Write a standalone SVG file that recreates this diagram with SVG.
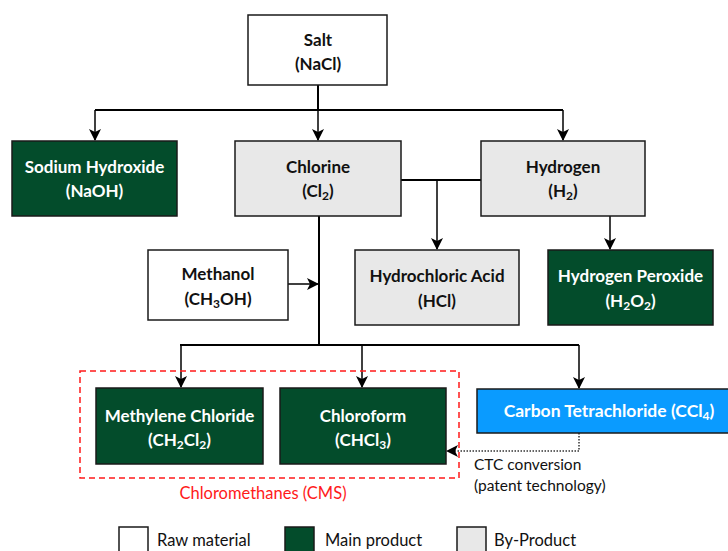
<svg xmlns="http://www.w3.org/2000/svg" width="728" height="551" viewBox="0 0 728 551">
<defs>
<marker id="ah" viewBox="0 0 12 12" refX="11" refY="6" markerWidth="12" markerHeight="12" markerUnits="userSpaceOnUse" orient="auto">
<path d="M0,0 L12,6 L0,12 L3,6 z" fill="#000"/>
</marker>
<style>
.box{stroke:#1a1a1a;stroke-width:1.5}
.raw{fill:#ffffff}
.main{fill:#034c2b}
.by{fill:#e8e8e8}
.blue{fill:#0a9bff}
.t{font-family:Lato,"Liberation Sans",sans-serif;font-size:17px;font-weight:bold;text-anchor:middle}
.dk{fill:#111}
.wt{fill:#ffffff}
.n{font-family:Lato,"Liberation Sans",sans-serif;font-size:15.5px;fill:#111}
.lg{font-size:16.5px}
.ln{fill:none;stroke:#000;stroke-width:2}
.la{fill:none;stroke:#000;stroke-width:1.5}
</style>
</defs>
<g id="connectors">
<path class="ln" d="M318,85 V110"/>
<path class="ln" d="M95,110 H563"/>
<path class="la" d="M95,110 V140" marker-end="url(#ah)"/>
<path class="la" d="M318,110 V140" marker-end="url(#ah)"/>
<path class="la" d="M563,110 V140" marker-end="url(#ah)"/>
<path class="ln" d="M401,180 H481"/>
<path class="la" d="M437,180 V249" marker-end="url(#ah)"/>
<path class="la" d="M610,216 V249" marker-end="url(#ah)"/>
<path class="ln" d="M319,216 V345"/>
<path class="la" d="M288,284 H318" marker-end="url(#ah)"/>
<path class="ln" d="M180,345 H579"/>
<path class="la" d="M181,345 V387" marker-end="url(#ah)"/>
<path class="la" d="M362,345 V387" marker-end="url(#ah)"/>
<path class="la" d="M579,345 V388" marker-end="url(#ah)"/>
<path d="M579,433 V451 H447" fill="none" stroke="#333" stroke-width="1.5" stroke-dasharray="1.5,1.5" marker-end="url(#ah)"/>
</g>
<g id="cms-group">
<rect x="80" y="371" width="379" height="107" fill="none" stroke="#ff1a1a" stroke-width="1.5" stroke-dasharray="6,4"/>
<text x="263" y="499" class="n" style="fill:#ff1a1a;text-anchor:middle;font-size:16.5px">Chloromethanes (CMS)</text>
</g>
<g id="salt">
<rect class="box raw" x="248" y="15" width="139" height="70"/>
<text class="t dk" x="318" y="46">Salt</text>
<text class="t dk" x="318" y="70">(NaCl)</text>
</g>
<g id="naoh">
<rect class="box main" x="12" y="141" width="165" height="75"/>
<text class="t wt" x="94.5" y="173">Sodium Hydroxide</text>
<text class="t wt" x="94.5" y="197">(NaOH)</text>
</g>
<g id="chlorine">
<rect class="box by" x="235" y="141" width="166" height="75"/>
<text class="t dk" x="318" y="173">Chlorine</text>
<text class="t dk" x="318" y="197">(Cl<tspan font-size="12" dy="3">2</tspan><tspan dy="-3">)</tspan></text>
</g>
<g id="hydrogen">
<rect class="box by" x="481" y="141" width="164" height="75"/>
<text class="t dk" x="563" y="173">Hydrogen</text>
<text class="t dk" x="563" y="197">(H<tspan font-size="12" dy="3">2</tspan><tspan dy="-3">)</tspan></text>
</g>
<g id="methanol">
<rect class="box raw" x="148" y="250" width="140" height="70"/>
<text class="t dk" x="218" y="280">Methanol</text>
<text class="t dk" x="218" y="305">(CH<tspan font-size="12" dy="3">3</tspan><tspan dy="-3">OH)</tspan></text>
</g>
<g id="hcl">
<rect class="box by" x="355" y="250" width="164" height="75"/>
<text class="t dk" x="437" y="282">Hydrochloric Acid</text>
<text class="t dk" x="437" y="307">(HCl)</text>
</g>
<g id="h2o2">
<rect class="box main" x="548" y="250" width="165" height="75"/>
<text class="t wt" x="630.5" y="282">Hydrogen Peroxide</text>
<text class="t wt" x="630.5" y="307">(H<tspan font-size="12" dy="3">2</tspan><tspan dy="-3">O</tspan><tspan font-size="12" dy="3">2</tspan><tspan dy="-3">)</tspan></text>
</g>
<g id="methylene">
<rect class="box main" x="96" y="388" width="167" height="76"/>
<text class="t wt" x="179.5" y="422">Methylene Chloride</text>
<text class="t wt" x="179.5" y="446">(CH<tspan font-size="12" dy="3">2</tspan><tspan dy="-3">Cl</tspan><tspan font-size="12" dy="3">2</tspan><tspan dy="-3">)</tspan></text>
</g>
<g id="chloroform">
<rect class="box main" x="280" y="388" width="166" height="76"/>
<text class="t wt" x="363" y="422">Chloroform</text>
<text class="t wt" x="363" y="446">(CHCl<tspan font-size="12" dy="3">3</tspan><tspan dy="-3">)</tspan></text>
</g>
<g id="ccl4">
<rect class="box blue" x="477" y="389" width="260" height="44"/>
<text class="t wt" x="609" y="417" style="font-size:17.5px">Carbon Tetrachloride (CCl<tspan font-size="12" dy="3">4</tspan><tspan dy="-3">)</tspan></text>
</g>
<g id="ctc-label">
<text class="n" x="474" y="470">CTC conversion</text>
<text class="n" x="474" y="491">(patent technology)</text>
</g>
<g id="legend">
<rect class="box raw" x="119" y="527" width="29" height="30"/>
<text class="n lg" x="157" y="546">Raw material</text>
<rect class="box main" x="285" y="527" width="29" height="30"/>
<text class="n lg" x="325" y="546">Main product</text>
<rect class="box by" x="457" y="527" width="29" height="30"/>
<text class="n lg" x="494" y="546">By-Product</text>
</g>
</svg>
